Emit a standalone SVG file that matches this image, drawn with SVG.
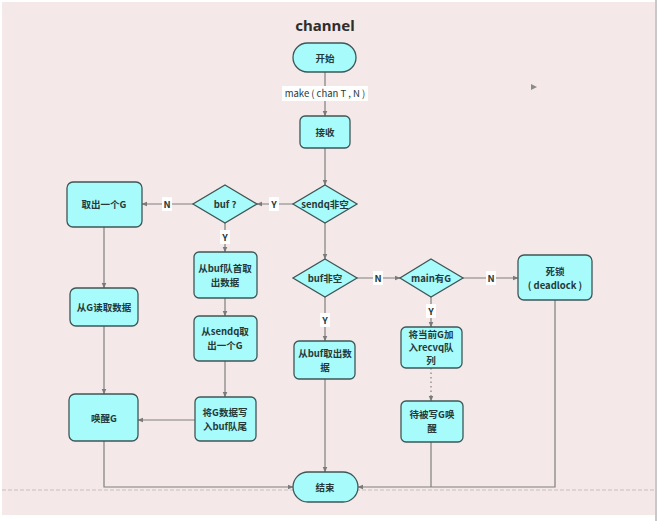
<svg xmlns="http://www.w3.org/2000/svg" width="659" height="521" viewBox="0 0 659 521">
<defs>
<marker id="ah" viewBox="0 0 10 10" refX="9" refY="5" markerWidth="6" markerHeight="6" orient="auto" markerUnits="userSpaceOnUse"><path d="M0,1 L10,5 L0,9 z" fill="#7a7a7a"/></marker>
<style>
.n{fill:#a8fbfb;stroke:#3e5656;stroke-width:1.3}
.t{font-family:"Noto Sans CJK SC","Liberation Sans",sans-serif;font-size:9.5px;font-weight:bold;fill:#243a3a;text-anchor:middle;dominant-baseline:central}
.c{fill:none;stroke:#7f7f7f;stroke-width:1.2}
.a{marker-end:url(#ah)}
.lb{fill:#ffffff}
.l{font-family:"Noto Sans CJK SC","Liberation Sans",sans-serif;font-size:9.5px;font-weight:bold;fill:#243a3a;text-anchor:middle;dominant-baseline:central}
</style>
</defs>
<rect x="0" y="0" width="659" height="521" fill="#ffffff"/>
<rect x="2" y="2" width="653" height="513" fill="#f4e8e8"/>
<line x1="656" y1="0" x2="656" y2="521" stroke="#c8c8c8" stroke-width="2"/>
<line x1="2" y1="490" x2="655" y2="490" stroke="#c9c0c0" stroke-width="1" stroke-dasharray="4,2"/>
<text x="325" y="25" font-family="'Noto Sans','Liberation Sans',sans-serif" font-size="15" font-weight="bold" fill="#2e2e2e" text-anchor="middle" dominant-baseline="central">channel</text>
<path d="M531,84 L537,87 L531,90 z" fill="#8a8a8a"/>

<g id="connectors">
<path class="c a" d="M325,72 V116"/>
<rect class="lb" x="282" y="86" width="86" height="15"/>
<text class="l" x="325" y="93" font-weight="normal" style="font-weight:normal">make ( chan T , N )</text>
<path class="c a" d="M325,148 V185"/>
<path class="c a" d="M293,204 H257"/>
<path class="c a" d="M193,204 H142"/>
<path class="c a" d="M225,223 V252"/>
<path class="c a" d="M225,298 V316"/>
<path class="c a" d="M225,361 V397"/>
<path class="c a" d="M195,420 H138"/>
<path class="c a" d="M104,227 V288"/>
<path class="c a" d="M104,326 V394"/>
<path class="c a" d="M104,441 V487 H293"/>
<path class="c a" d="M325,223 V259"/>
<path class="c a" d="M357,278 H400"/>
<path class="c a" d="M463,278 H518"/>
<path class="c a" d="M325,297 V341"/>
<path class="c a" d="M325,379 V472"/>
<path class="c a" d="M431,297 V327"/>
<path class="c a" d="M431,368 V401" stroke-dasharray="1.5,3"/>
<path class="c" d="M431,442 V487"/>
<path class="c a" d="M555,300 V487 H358"/>
<rect class="lb" x="269" y="197" width="10" height="14"/><text class="l" x="274" y="204">Y</text>
<rect class="lb" x="162" y="197" width="10" height="14"/><text class="l" x="167" y="204">N</text>
<rect class="lb" x="220" y="230" width="10" height="14"/><text class="l" x="225" y="237">Y</text>
<rect class="lb" x="373" y="271" width="10" height="14"/><text class="l" x="378" y="278">N</text>
<rect class="lb" x="486" y="271" width="10" height="14"/><text class="l" x="491" y="278">N</text>
<rect class="lb" x="320" y="313" width="10" height="14"/><text class="l" x="325" y="320">Y</text>
<rect class="lb" x="426" y="304" width="10" height="14"/><text class="l" x="431" y="311">Y</text>
</g>

<g id="start"><rect class="n" x="293" y="43" width="63" height="29" rx="14.5"/><text class="t" x="325" y="58">开始</text></g>
<g id="recv"><rect class="n" x="300" y="116" width="50" height="32" rx="5"/><text class="t" x="325" y="132">接收</text></g>
<g id="sendq"><polygon class="n" points="325,185 357,204 325,223 293,204"/><text class="t" x="325" y="204">sendq非空</text></g>
<g id="buf"><polygon class="n" points="225,185 257,204 225,223 193,204"/><text class="t" x="225" y="204">buf ?</text></g>
<g id="takeG"><rect class="n" x="67" y="182" width="75" height="45" rx="6"/><text class="t" x="104" y="204">取出一个G</text></g>
<g id="bufHead"><rect class="n" x="194" y="252" width="63" height="46" rx="5"/><text class="t" x="225" y="268">从buf队首取</text><text class="t" x="225" y="282">出数据</text></g>
<g id="sendqTake"><rect class="n" x="194" y="316" width="63" height="45" rx="5"/><text class="t" x="225" y="331">从sendq取</text><text class="t" x="225" y="345">出一个G</text></g>
<g id="readG"><rect class="n" x="70" y="288" width="68" height="38" rx="6"/><text class="t" x="104" y="307">从G读取数据</text></g>
<g id="wakeG"><rect class="n" x="69" y="394" width="69" height="47" rx="6"/><text class="t" x="104" y="418">唤醒G</text></g>
<g id="writeBuf"><rect class="n" x="195" y="397" width="61" height="44" rx="5"/><text class="t" x="225" y="412">将G数据写</text><text class="t" x="225" y="426">入buf队尾</text></g>
<g id="bufNotEmpty"><polygon class="n" points="325,259 357,278 325,297 293,278"/><text class="t" x="325" y="278">buf非空</text></g>
<g id="mainG"><polygon class="n" points="431,259 463,278 431,297 400,278"/><text class="t" x="431" y="278">main有G</text></g>
<g id="deadlock"><rect class="n" x="518" y="255" width="74" height="45" rx="6"/><text class="t" x="555" y="271">死锁</text><text class="t" x="555" y="285">( deadlock )</text></g>
<g id="bufTake"><rect class="n" x="294" y="341" width="61" height="38" rx="5"/><text class="t" x="325" y="353">从buf取出数</text><text class="t" x="325" y="367">据</text></g>
<g id="joinRecvq"><rect class="n" x="401" y="327" width="61" height="41" rx="5"/><text class="t" x="431" y="334">将当前G加</text><text class="t" x="431" y="347">入recvq队</text><text class="t" x="431" y="360">列</text></g>
<g id="waitWake"><rect class="n" x="401" y="401" width="62" height="41" rx="5"/><text class="t" x="432" y="414">待被写G唤</text><text class="t" x="432" y="428">醒</text></g>
<g id="end"><rect class="n" x="293" y="472" width="65" height="30" rx="15"/><text class="t" x="325" y="487">结束</text></g>
</svg>
